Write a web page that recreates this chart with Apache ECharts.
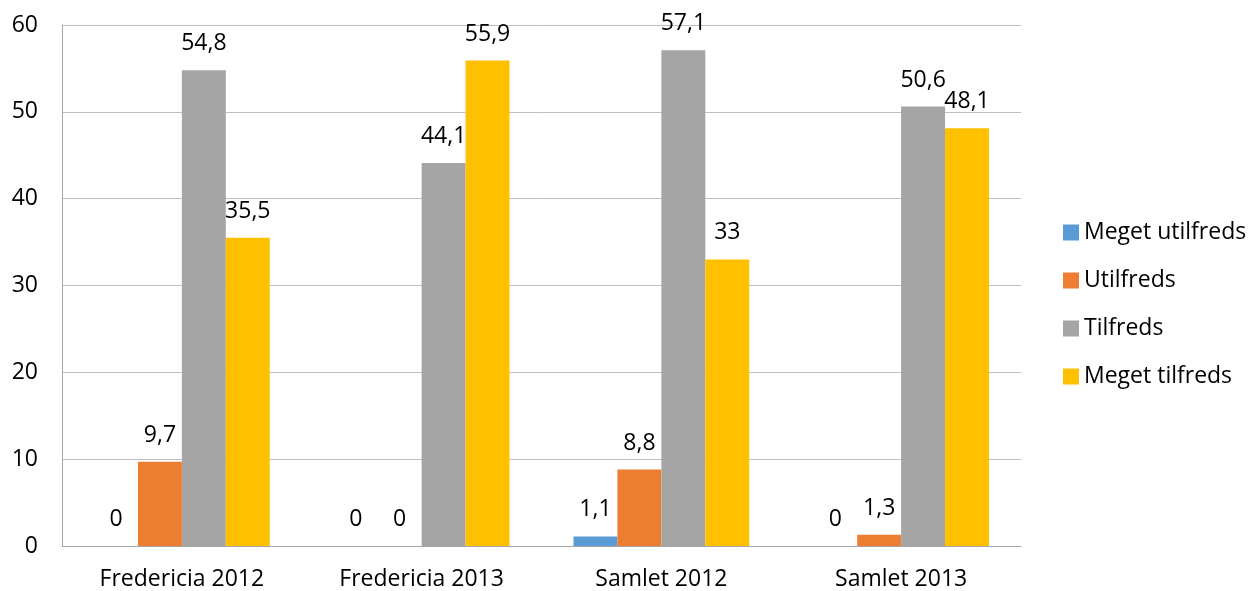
<!DOCTYPE html>
<html>
<head>
<meta charset="utf-8">
<script src="https://cdn.jsdelivr.net/npm/echarts@6/dist/echarts.min.js"></script>
<style>
  html, body { margin: 0; padding: 0; background: #fff; }
  #chart { width: 1253px; height: 591px; }
</style>
</head>
<body>
<div id="chart"></div>
<script>
// Satisfaction survey results per group and year (percent)
const categories = ['Fredericia 2012', 'Fredericia 2013', 'Samlet 2012', 'Samlet 2013'];
const seriesNames = ['Meget utilfreds', 'Utilfreds', 'Tilfreds', 'Meget tilfreds'];
const megetUtilfreds = [0, 0, 1.1, 0];
const utilfreds = [9.7, 0, 8.8, 1.3];
const tilfreds = [54.8, 44.1, 57.1, 50.6];
const megetTilfreds = [35.5, 55.9, 33, 48.1];
const yTicks = { min: 0, max: 60, interval: 10 };

const colors = ['#5B9BD5', '#ED7D31', '#A5A5A5', '#FFC000'];
const values = [megetUtilfreds, utilfreds, tilfreds, megetTilfreds];
const FONT = '"Open Sans", "Noto Sans", sans-serif';
const FS = 23;

const chart = echarts.init(document.getElementById('chart'));
chart.setOption({
  animation: false,
  color: colors,
  textStyle: { fontFamily: FONT },
  grid: { left: 62, right: 232, top: 25, bottom: 44, containLabel: false },
  legend: {
    orient: 'vertical',
    left: 1063,
    top: 221,
    padding: 0,
    itemWidth: 16,
    itemHeight: 16,
    itemGap: 25,
    icon: 'rect',
    data: seriesNames,
    textStyle: { fontFamily: FONT, fontSize: FS, color: '#000' }
  },
  xAxis: {
    type: 'category',
    data: categories,
    axisTick: { show: false },
    axisLine: { lineStyle: { color: '#a6a6a6', width: 1 } },
    axisLabel: { fontFamily: FONT, fontSize: FS, color: '#000', margin: 22 }
  },
  yAxis: {
    type: 'value',
    min: yTicks.min,
    max: yTicks.max,
    interval: yTicks.interval,
    axisLine: { show: true, lineStyle: { color: '#a6a6a6', width: 1 } },
    axisTick: { show: false },
    splitLine: { lineStyle: { color: '#bfbfbf', width: 1 } },
    axisLabel: { fontFamily: FONT, fontSize: FS, color: '#000', margin: 24 }
  },
  series: seriesNames.map((name, i) => ({
    name,
    type: 'bar',
    data: values[i],
    barGap: '0%',
    barCategoryGap: '26.7%',
    label: {
      show: true,
      position: 'top',
      distance: 15,
      fontFamily: FONT,
      fontSize: FS,
      color: '#000',
      formatter: p => String(p.value).replace('.', ',')
    }
  }))
});
</script>
</body>
</html>
